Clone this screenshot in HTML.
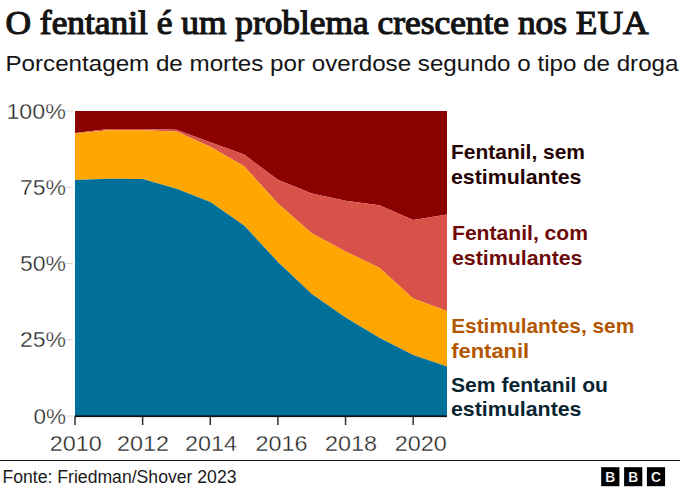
<!DOCTYPE html>
<html><head><meta charset="utf-8"><style>
html,body{margin:0;padding:0;background:#fff;}
svg{display:block;}
text{font-family:"Liberation Sans",sans-serif;}
.title{font-family:"Liberation Serif",serif;font-weight:400;font-size:33px;fill:#141414;stroke:#141414;stroke-width:1.2px;}
.sub{font-size:21.5px;fill:#141414;}
.ax{font-size:21.3px;fill:#1e1e1e;stroke:#fff;stroke-width:0.35px;}
.lab{font-size:21px;font-weight:700;}
.src{font-size:17.5px;fill:#1a1a1a;}
.bbc{font-size:13.8px;font-weight:700;fill:#fff;stroke:#000;stroke-width:0.2px;}
</style></head><body>
<svg width="680" height="493" viewBox="0 0 680 493">
<rect width="680" height="493" fill="#fff"/>
<text x="5.5" y="34.2" class="title" textLength="643" lengthAdjust="spacingAndGlyphs">O fentanil é um problema crescente nos EUA</text>
<text x="5.5" y="70.5" class="sub" textLength="673" lengthAdjust="spacingAndGlyphs">Porcentagem de mortes por overdose segundo o tipo de droga</text>
<polygon points="75.00,111.00 108.82,111.00 142.64,111.00 176.45,111.00 210.27,111.00 244.09,111.00 277.91,111.00 311.73,111.00 345.55,111.00 379.36,111.00 413.18,111.00 447.00,111.00 447.00,214.50 413.18,220.00 379.36,205.20 345.55,200.70 311.73,193.60 277.91,179.70 244.09,154.60 210.27,142.30 176.45,129.80 142.64,129.00 108.82,129.00 75.00,133.00" fill="#8b0000"/>
<polygon points="75.00,133.00 108.82,129.00 142.64,129.00 176.45,129.80 210.27,142.30 244.09,154.60 277.91,179.70 311.73,193.60 345.55,200.70 379.36,205.20 413.18,220.00 447.00,214.50 447.00,311.00 413.18,298.50 379.36,267.70 345.55,251.40 311.73,233.30 277.91,203.40 244.09,166.30 210.27,146.70 176.45,131.40 142.64,130.30 108.82,130.30 75.00,133.40" fill="#d9524a"/>
<polygon points="75.00,133.40 108.82,130.30 142.64,130.30 176.45,131.40 210.27,146.70 244.09,166.30 277.91,203.40 311.73,233.30 345.55,251.40 379.36,267.70 413.18,298.50 447.00,311.00 447.00,366.50 413.18,355.00 379.36,337.70 345.55,317.40 311.73,294.00 277.91,262.00 244.09,225.50 210.27,202.00 176.45,188.80 142.64,179.00 108.82,178.80 75.00,180.00" fill="#ffa600"/>
<polygon points="75.00,180.00 108.82,178.80 142.64,179.00 176.45,188.80 210.27,202.00 244.09,225.50 277.91,262.00 311.73,294.00 345.55,317.40 379.36,337.70 413.18,355.00 447.00,366.50 447.00,416.00 413.18,416.00 379.36,416.00 345.55,416.00 311.73,416.00 277.91,416.00 244.09,416.00 210.27,416.00 176.45,416.00 142.64,416.00 108.82,416.00 75.00,416.00" fill="#00709b"/>
<line x1="66" y1="416.00" x2="73" y2="416.00" stroke="#d6d6d6" stroke-width="1"/>
<text x="65.9" y="423.50" text-anchor="end" class="ax" textLength="32.5" lengthAdjust="spacingAndGlyphs">0%</text>
<line x1="66" y1="339.75" x2="73" y2="339.75" stroke="#d6d6d6" stroke-width="1"/>
<text x="65.9" y="347.25" text-anchor="end" class="ax" textLength="46" lengthAdjust="spacingAndGlyphs">25%</text>
<line x1="66" y1="263.50" x2="73" y2="263.50" stroke="#d6d6d6" stroke-width="1"/>
<text x="65.9" y="271.00" text-anchor="end" class="ax" textLength="46" lengthAdjust="spacingAndGlyphs">50%</text>
<line x1="66" y1="187.25" x2="73" y2="187.25" stroke="#d6d6d6" stroke-width="1"/>
<text x="65.9" y="194.75" text-anchor="end" class="ax" textLength="46" lengthAdjust="spacingAndGlyphs">75%</text>
<line x1="66" y1="111.00" x2="73" y2="111.00" stroke="#d6d6d6" stroke-width="1"/>
<text x="65.9" y="118.50" text-anchor="end" class="ax" textLength="59.5" lengthAdjust="spacingAndGlyphs">100%</text>
<rect x="74.5" y="415.4" width="372.5" height="1.7" fill="#111"/>
<rect x="74.25" y="417" width="1.5" height="8" fill="#333"/>
<text x="75.70" y="450.6" text-anchor="middle" class="ax" textLength="52" lengthAdjust="spacingAndGlyphs">2010</text>
<rect x="141.89" y="417" width="1.5" height="8" fill="#333"/>
<text x="143.00" y="450.6" text-anchor="middle" class="ax" textLength="52" lengthAdjust="spacingAndGlyphs">2012</text>
<rect x="209.52" y="417" width="1.5" height="8" fill="#333"/>
<text x="211.00" y="450.6" text-anchor="middle" class="ax" textLength="52" lengthAdjust="spacingAndGlyphs">2014</text>
<rect x="277.16" y="417" width="1.5" height="8" fill="#333"/>
<text x="281.50" y="450.6" text-anchor="middle" class="ax" textLength="52" lengthAdjust="spacingAndGlyphs">2016</text>
<rect x="344.80" y="417" width="1.5" height="8" fill="#333"/>
<text x="350.90" y="450.6" text-anchor="middle" class="ax" textLength="52" lengthAdjust="spacingAndGlyphs">2018</text>
<rect x="412.43" y="417" width="1.5" height="8" fill="#333"/>
<text x="420.80" y="450.6" text-anchor="middle" class="ax" textLength="52" lengthAdjust="spacingAndGlyphs">2020</text>
<text class="lab" fill="#260303"><tspan x="451" y="158.5" textLength="134" lengthAdjust="spacingAndGlyphs">Fentanil, sem</tspan><tspan x="451" y="184" textLength="130.5" lengthAdjust="spacingAndGlyphs">estimulantes</tspan></text>
<text class="lab" fill="#6e0a0a"><tspan x="452" y="239.7" textLength="136" lengthAdjust="spacingAndGlyphs">Fentanil, com</tspan><tspan x="452" y="265" textLength="130.5" lengthAdjust="spacingAndGlyphs">estimulantes</tspan></text>
<text class="lab" fill="#b35600"><tspan x="451.2" y="333.2" textLength="183" lengthAdjust="spacingAndGlyphs">Estimulantes, sem</tspan><tspan x="451.2" y="358" textLength="78" lengthAdjust="spacingAndGlyphs">fentanil</tspan></text>
<text class="lab" fill="#0a2532"><tspan x="451" y="392" textLength="157" lengthAdjust="spacingAndGlyphs">Sem fentanil ou</tspan><tspan x="451" y="416" textLength="130.5" lengthAdjust="spacingAndGlyphs">estimulantes</tspan></text>
<rect x="0" y="460" width="680" height="1" fill="#1a1a1a"/>
<text x="2.5" y="483" class="src" textLength="234" lengthAdjust="spacingAndGlyphs">Fonte: Friedman/Shover 2023</text>
<rect x="601.2" y="467.2" width="18.2" height="19" fill="#000"/>
<rect x="624.1" y="467.2" width="18.2" height="19" fill="#000"/>
<rect x="646.9" y="467.2" width="18.2" height="19" fill="#000"/>
<text x="610.3" y="481.8" text-anchor="middle" class="bbc">B</text>
<text x="633.2" y="481.8" text-anchor="middle" class="bbc">B</text>
<text x="656" y="481.8" text-anchor="middle" class="bbc">C</text>
</svg>
</body></html>
